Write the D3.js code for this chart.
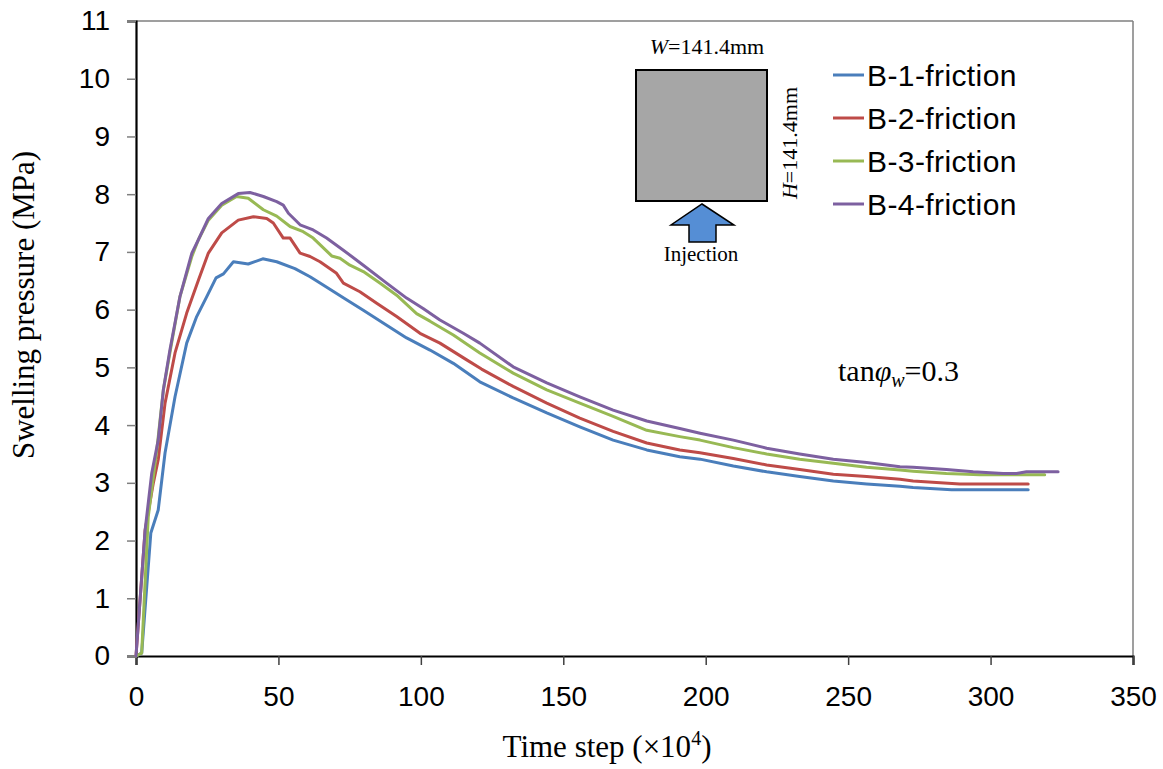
<!DOCTYPE html>
<html>
<head>
<meta charset="utf-8">
<script src="https://cdn.jsdelivr.net/npm/d3@7"></script>
<style>
  body { margin: 0; background: #fff; }
  svg { display: block; }
</style>
</head>
<body>
<svg id="chart" width="1163" height="769"></svg>
<script>
// ---------- data ----------
const seriesNames = ["B-1-friction", "B-2-friction", "B-3-friction", "B-4-friction"];
const seriesColors = ["#4a7ebb", "#be4b48", "#98b954", "#7d60a0"];

const b1Steps  = [0, 2, 5.2, 7.8, 10.2, 13.7, 17.8, 21.3, 24.8, 28.1, 30.7, 34.2, 39.4, 44.5, 49.4, 55.8, 61.1, 64.6, 73.9, 79.8, 88, 95, 103.2, 111.4, 120.7, 132.4, 144.2, 155.8, 167.5, 179.3, 190.9, 198, 209.7, 221.4, 233, 244.8, 256.5, 268.2, 272.8, 286.3, 313.2];
const b1Values = [0, 0.05, 2.13, 2.53, 3.52, 4.49, 5.42, 5.88, 6.22, 6.55, 6.62, 6.83, 6.79, 6.88, 6.83, 6.71, 6.57, 6.46, 6.17, 5.99, 5.73, 5.51, 5.30, 5.07, 4.75, 4.47, 4.21, 3.97, 3.74, 3.57, 3.45, 3.41, 3.29, 3.19, 3.11, 3.03, 2.98, 2.94, 2.92, 2.88, 2.88];

const b2Steps  = [0, 3.2, 6.1, 7.8, 10.2, 13.7, 17.8, 21.9, 25.4, 30.1, 35.9, 41.2, 45.9, 48.2, 51.7, 54.1, 57.6, 61.1, 64.6, 70.4, 72.8, 78.6, 84.5, 91.5, 99.7, 106.7, 116.1, 121.3, 132.4, 144.2, 155.8, 167.5, 179.3, 190.9, 198, 209.7, 221.4, 233, 244.8, 256.5, 268.2, 272.8, 289.2, 313.2];
const b2Values = [0, 2.18, 3.0, 3.4, 4.38, 5.25, 5.94, 6.51, 6.98, 7.33, 7.55, 7.61, 7.58, 7.50, 7.24, 7.24, 6.98, 6.92, 6.83, 6.63, 6.46, 6.31, 6.11, 5.88, 5.59, 5.42, 5.13, 4.97, 4.67, 4.38, 4.12, 3.89, 3.69, 3.57, 3.52, 3.42, 3.31, 3.23, 3.15, 3.11, 3.06, 3.03, 2.98, 2.98];

const b3Steps  = [0, 2, 4.3, 7.3, 9.6, 12.5, 15.4, 19.6, 21.9, 25.4, 30.1, 35.3, 39.4, 44.7, 49.4, 54.1, 58.7, 62.2, 68.7, 71.6, 75.1, 79.8, 85.6, 91.5, 98.5, 103.2, 111.4, 120.7, 132.4, 144.2, 155.8, 167.5, 179.3, 190.9, 198, 209.7, 221.4, 233, 244.8, 256.5, 268.2, 272.8, 284.5, 296.2, 319];
const b3Values = [0, 0.05, 2.41, 3.57, 4.61, 5.42, 6.22, 6.92, 7.21, 7.55, 7.81, 7.96, 7.93, 7.73, 7.62, 7.44, 7.35, 7.24, 6.93, 6.89, 6.77, 6.66, 6.46, 6.25, 5.93, 5.80, 5.56, 5.25, 4.90, 4.61, 4.38, 4.15, 3.91, 3.80, 3.74, 3.61, 3.50, 3.41, 3.34, 3.27, 3.22, 3.20, 3.16, 3.14, 3.14];

const b4Steps  = [0, 3.2, 5.5, 7.8, 9.6, 11.9, 15.4, 19.6, 21.9, 25.4, 30.1, 35.9, 40, 44.7, 49.4, 51.7, 53.5, 57.6, 62.2, 66.9, 72.8, 79.8, 88, 95, 100.8, 106.7, 114.9, 120.7, 132.4, 144.2, 155.8, 167.5, 179.3, 190.9, 198, 209.7, 221.4, 233, 244.8, 256.5, 268.2, 272.8, 284.5, 293.9, 304.4, 309.1, 312.6, 323.7];
const b4Values = [0, 2.18, 3.16, 3.74, 4.61, 5.30, 6.22, 6.98, 7.21, 7.58, 7.84, 8.01, 8.03, 7.96, 7.87, 7.81, 7.67, 7.47, 7.38, 7.24, 7.03, 6.77, 6.46, 6.20, 6.02, 5.82, 5.59, 5.42, 5.01, 4.73, 4.49, 4.26, 4.07, 3.94, 3.86, 3.74, 3.60, 3.50, 3.41, 3.35, 3.28, 3.27, 3.23, 3.19, 3.16, 3.16, 3.19, 3.19];

const xTicks = [0, 50, 100, 150, 200, 250, 300, 350];
const yTicks = [0, 1, 2, 3, 4, 5, 6, 7, 8, 9, 10, 11];

const xTitle = "Time step (×10";
const yTitle = "Swelling pressure (MPa)";

// ---------- layout ----------
const svg = d3.select("#chart");
const mLeft = 136, mRight = 1133, mTop = 21, mBottom = 656;

const x = d3.scaleLinear().domain([0, 350]).range([mLeft, mRight]);
const y = d3.scaleLinear().domain([0, 11]).range([mBottom, mTop]);

const allSteps = [b1Steps, b2Steps, b3Steps, b4Steps];
const allValues = [b1Values, b2Values, b3Values, b4Values];
const series = seriesNames.map((name, i) => ({
  name, color: seriesColors[i],
  points: allSteps[i].map((s, j) => [s, allValues[i][j]])
}));

// plot area border (top & right grey)
svg.append("line").attr("x1", mLeft).attr("x2", mRight).attr("y1", mTop).attr("y2", mTop)
  .attr("stroke", "#7f7f7f").attr("stroke-width", 1.5);
svg.append("line").attr("x1", mRight).attr("x2", mRight).attr("y1", mTop).attr("y2", mBottom)
  .attr("stroke", "#7f7f7f").attr("stroke-width", 1.5);

// y axis
const yAxis = d3.axisLeft(y).tickValues(yTicks).tickSize(9).tickPadding(17).tickFormat(d3.format("d"));
const gy = svg.append("g").attr("transform", `translate(${mLeft},0)`).call(yAxis);
gy.select(".domain").attr("stroke", "#000").attr("stroke-width", 2.2);
gy.selectAll(".tick line").attr("stroke", "#7f7f7f").attr("stroke-width", 1.5);
gy.selectAll(".tick text").attr("font-family", "'Liberation Sans', Arial, sans-serif")
  .attr("font-size", 28).attr("fill", "#000");

// x axis
const xAxis = d3.axisBottom(x).tickValues(xTicks).tickSize(9).tickPadding(21).tickFormat(d3.format("d"));
const gx = svg.append("g").attr("transform", `translate(0,${mBottom})`).call(xAxis);
gx.select(".domain").attr("stroke", "#000").attr("stroke-width", 2.2);
gx.selectAll(".tick line").attr("stroke", "#404040").attr("stroke-width", 1.5);
gx.selectAll(".tick text").attr("font-family", "'Liberation Sans', Arial, sans-serif")
  .attr("font-size", 28).attr("fill", "#000");

// lines
const line = d3.line().x(d => x(d[0])).y(d => y(d[1]));
svg.append("g").selectAll("path").data(series).join("path")
  .attr("d", d => line(d.points))
  .attr("fill", "none")
  .attr("stroke", d => d.color)
  .attr("stroke-width", 3)
  .attr("stroke-linejoin", "round")
  .attr("stroke-linecap", "round");

// legend
const lg = svg.append("g");
const legendY = [75, 118, 161, 204];
series.forEach((s, i) => {
  lg.append("line").attr("x1", 833).attr("x2", 864).attr("y1", legendY[i]).attr("y2", legendY[i])
    .attr("stroke", s.color).attr("stroke-width", 3);
  lg.append("text").attr("x", 867).attr("y", legendY[i]).attr("dy", "0.36em")
    .attr("font-family", "'Liberation Sans', Arial, sans-serif").attr("font-size", 30)
    .attr("letter-spacing", 0.4)
    .text(s.name);
});

// axis titles
const serif = "'Liberation Serif', 'Times New Roman', serif";
const xt = svg.append("text").attr("x", 607).attr("y", 757).attr("text-anchor", "middle")
  .attr("font-family", serif).attr("font-size", 31);
xt.append("tspan").text(xTitle);
xt.append("tspan").attr("dy", -12).attr("font-size", 20).text("4");
xt.append("tspan").attr("dy", 12).text(")");

svg.append("text").attr("transform", "translate(34,305) rotate(-90)").attr("text-anchor", "middle")
  .attr("font-family", serif).attr("font-size", 31).text(yTitle);

// specimen diagram
svg.append("rect").attr("x", 636).attr("y", 70).attr("width", 131).attr("height", 131)
  .attr("fill", "#a6a6a6").attr("stroke", "#000").attr("stroke-width", 2);
svg.append("polygon")
  .attr("points", "702,204 734,225 716,225 716,242 689,242 689,225 671,225")
  .attr("fill", "#558ed5").attr("stroke", "#000").attr("stroke-width", 1.5);
svg.append("text").attr("x", 701).attr("y", 261).attr("text-anchor", "middle")
  .attr("font-family", serif).attr("font-size", 21).text("Injection");

const wt = svg.append("text").attr("x", 707).attr("y", 54).attr("text-anchor", "middle")
  .attr("font-family", serif).attr("font-size", 22);
wt.append("tspan").attr("font-style", "italic").text("W");
wt.append("tspan").text("=141.4mm");

const ht = svg.append("text").attr("transform", "translate(797,143) rotate(-90)").attr("text-anchor", "middle")
  .attr("font-family", serif).attr("font-size", 22);
ht.append("tspan").attr("font-style", "italic").text("H");
ht.append("tspan").text("=141.4mm");

// friction annotation
const tt = svg.append("text").attr("x", 838).attr("y", 381)
  .attr("font-family", serif).attr("font-size", 30);
tt.append("tspan").text("tan");
tt.append("tspan").attr("font-style", "italic").text("φ");
tt.append("tspan").attr("font-style", "italic").attr("font-size", 20).attr("dy", 6).text("w");
tt.append("tspan").attr("dy", -6).text("=0.3");
</script>
</body>
</html>
